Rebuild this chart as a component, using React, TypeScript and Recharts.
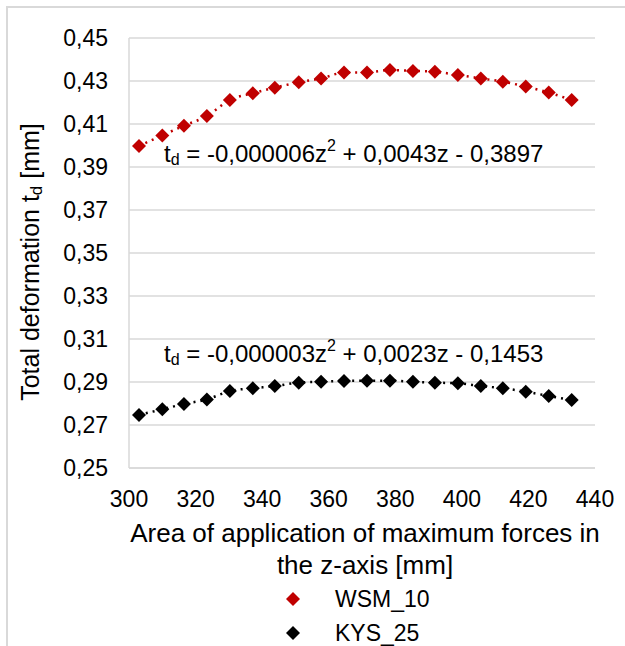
import React from "react";
import { LineChart, Line, XAxis, YAxis, CartesianGrid, ReferenceDot } from "recharts";

const zValues = [303, 310, 316.5, 323.4, 330.3, 337.2, 343.8, 351, 357.7, 364.6, 371.5, 378.4, 385.3, 391.9, 398.8, 405.7, 412.3, 419.2, 426.1, 433];
const wsm10 = [0.3998, 0.4047, 0.4092, 0.4137, 0.4212, 0.4243, 0.4269, 0.4294, 0.4312, 0.4339, 0.434, 0.4351, 0.4347, 0.4343, 0.4328, 0.4312, 0.4297, 0.4274, 0.4246, 0.4212];
const kys25 = [0.2747, 0.2773, 0.2798, 0.2819, 0.2858, 0.2871, 0.2881, 0.2897, 0.2901, 0.2905, 0.2906, 0.2906, 0.2901, 0.2897, 0.2894, 0.2881, 0.2871, 0.2855, 0.2835, 0.2816];
const xTicks = [300, 320, 340, 360, 380, 400, 420, 440];
const yTicks = [0.25, 0.27, 0.29, 0.31, 0.33, 0.35, 0.37, 0.39, 0.41, 0.43, 0.45];
const seriesNames = ["WSM_10", "KYS_25"];
const eqWsm = { x: 367.5, y: 0.3965, coef: ["-0,000006z", " + 0,0043z - 0,3897"] };
const eqKys = { x: 367.5, y: 0.3035, coef: ["-0,000003z", " + 0,0023z - 0,1453"] };

const data = zValues.map((z, i) => ({ z, wsm: wsm10[i], kys: kys25[i] }));

const FONT = "'Liberation Sans', Arial, sans-serif";
const RED = "#c00000";
const BLACK = "#000000";

const Diamond = (color: string) => (props: any) => {
  const { cx, cy, index } = props;
  if (cx == null || cy == null) return null;
  const r = 7;
  return (
    <path
      key={`d-${color}-${index}`}
      d={`M${cx},${cy - r} L${cx + r},${cy} L${cx},${cy + r} L${cx - r},${cy} Z`}
      fill={color}
      stroke="none"
    />
  );
};

const EqLabel = (coef: string[]) => (props: any) => {
  const vb = props.viewBox || {};
  const cx = vb.cx ?? vb.x;
  const cy = vb.cy ?? vb.y;
  return (
    <text x={cx} y={cy} textAnchor="middle" dominantBaseline="central" fontFamily={FONT} fontSize={24} fill="#000">
      <tspan>t</tspan>
      <tspan fontSize={16} dy={6}>d</tspan>
      <tspan dy={-6}>{" = " + coef[0]}</tspan>
      <tspan fontSize={16} dy={-8}>2</tspan>
      <tspan dy={8}>{coef[1]}</tspan>
    </text>
  );
};

const YTitle = () => {
  const x = 30;
  const y = 262;
  return (
    <text x={x} y={y} transform={`rotate(-90 ${x} ${y})`} textAnchor="middle" dominantBaseline="central" fontFamily={FONT} fontSize={25} fill="#000">
      <tspan>Total deformation t</tspan>
      <tspan fontSize={17} dy={6}>d</tspan>
      <tspan dy={-6}> [mm]</tspan>
    </text>
  );
};

const XTitle = () => {
  const x = 365;
  return (
    <text x={x} y={533} textAnchor="middle" dominantBaseline="central" fontFamily={FONT} fontSize={26} fill="#000">
      <tspan x={x} y={533}>Area of application of maximum forces in</tspan>
      <tspan x={x} y={565}>the z-axis [mm]</tspan>
    </text>
  );
};

const LegendBox = () => (
  <svg width={625} height={70} style={{ position: "absolute", left: 0, top: 581, display: "block" }}>
    {seriesNames.map((n, i) => {
      const cy = 18 + i * 34;
      const cx = 293;
      const r = 7;
      const color = i === 0 ? RED : BLACK;
      return (
        <g key={n}>
          <path d={`M${cx},${cy - r} L${cx + r},${cy} L${cx},${cy + r} L${cx - r},${cy} Z`} fill={color} />
          <text x={335} y={cy} dominantBaseline="central" fontFamily={FONT} fontSize={23} fill="#000">{n}</text>
        </g>
      );
    })}
  </svg>
);

export default function App() {
  return (
    <div style={{ position: "absolute", left: 0, top: 0, width: 625, height: 646, background: "#fff", overflow: "hidden" }}>
      <div style={{ position: "absolute", left: 6, top: 6, width: 619, height: 640, borderLeft: "2px solid #d9d9d9", borderTop: "2px solid #d9d9d9", boxSizing: "border-box" }} />
      <div style={{ position: "absolute", left: 0, top: 0 }}>
        <LineChart width={625} height={646} data={data} margin={{ top: 38, right: 30, left: 0, bottom: 118 }}>
          <CartesianGrid horizontal vertical={false} stroke="#d9d9d9" strokeWidth={1.5} />
          <XAxis
            dataKey="z"
            type="number"
            domain={[300, 440]}
            ticks={xTicks}
            height={60}
            tickLine={false}
            tickSize={6}
            tickMargin={17}
            axisLine={{ stroke: "#d9d9d9", strokeWidth: 1.5 }}
            tick={{ fontFamily: FONT, fontSize: 23, fill: "#000" }}
            label={<XTitle />}
          />
          <YAxis
            type="number"
            domain={[0.25, 0.45]}
            ticks={yTicks}
            width={129}
            tickLine={false}
            tickSize={6}
            tickMargin={15}
            interval={0}
            axisLine={{ stroke: "#d9d9d9", strokeWidth: 1.5 }}
            tick={{ fontFamily: FONT, fontSize: 23, fill: "#000" }}
            tickFormatter={(v: number) => v.toFixed(2).replace(".", ",")}
            label={<YTitle />}
          />
          <Line
            dataKey="wsm"
            name={seriesNames[0]}
            type="monotone"
            stroke={RED}
            strokeWidth={2.5}
            strokeDasharray="2 5"
            dot={Diamond(RED)}
            activeDot={false}
            isAnimationActive={false}
          />
          <Line
            dataKey="kys"
            name={seriesNames[1]}
            type="monotone"
            stroke={BLACK}
            strokeWidth={2.5}
            strokeDasharray="2 5"
            dot={Diamond(BLACK)}
            activeDot={false}
            isAnimationActive={false}
          />
          <ReferenceDot x={eqWsm.x} y={eqWsm.y} r={0} fill="none" stroke="none" label={EqLabel(eqWsm.coef)} />
          <ReferenceDot x={eqKys.x} y={eqKys.y} r={0} fill="none" stroke="none" label={EqLabel(eqKys.coef)} />
        </LineChart>
      </div>
      <LegendBox />
    </div>
  );
}
